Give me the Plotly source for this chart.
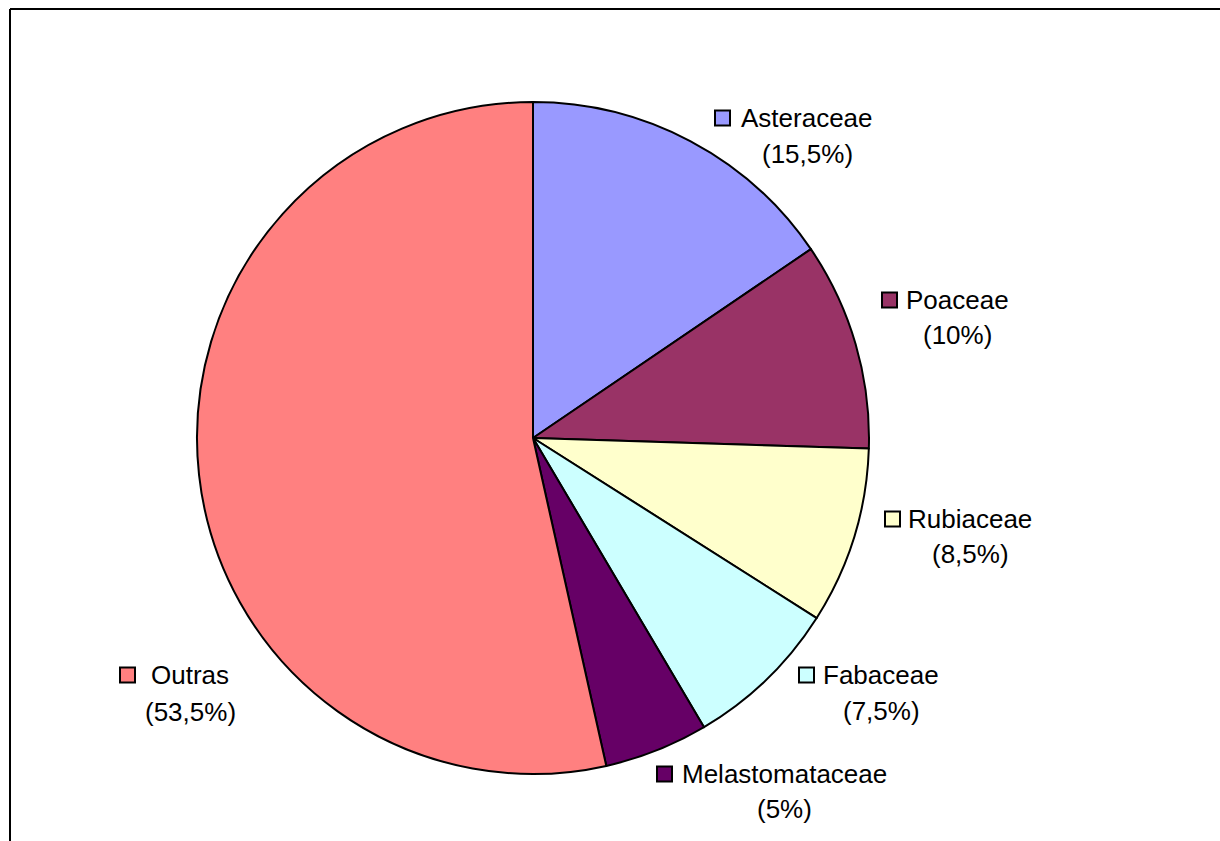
import plotly.graph_objects as go

# ---- data ----
families = ["Asteraceae", "Poaceae", "Rubiaceae", "Fabaceae", "Melastomataceae", "Outras"]
percents = [15.5, 10, 8.5, 7.5, 5, 53.5]
pct_labels = ["(15,5%)", "(10%)", "(8,5%)", "(7,5%)", "(5%)", "(53,5%)"]

# ---- styles / layout ----
colors = ["#9999FF", "#993366", "#FFFFCC", "#CCFFFF", "#660066", "#FF8080"]
W, H = 1220, 841
# label placement in pixels: (text center x, line1 center y, line2 center y, square left x)
label_pos = [
    (807, 118, 154, 715),
    (957, 300, 335, 882),
    (970, 519, 554, 885),
    (881, 675, 711, 799),
    (784, 774, 809, 657),
    (190, 675, 712, 120),
]
SQ = 15
FONT = "Liberation Sans, Arial, sans-serif"
FS = 26

def px(x):
    return x / W

def py(y):
    return 1 - y / H

cx, cy, r = 533, 438, 336

fig = go.Figure(go.Pie(
    labels=families,
    values=percents,
    sort=False,
    direction="clockwise",
    rotation=0,
    marker=dict(colors=colors, line=dict(color="black", width=2)),
    textinfo="none",
    hoverinfo="label+percent",
    showlegend=False,
    domain=dict(x=[px(cx - r), px(cx + r)], y=[py(cy + r), py(cy - r)]),
))

annotations = []
shapes = []
for name, pl, (tx, y1, y2, sx) in zip(families, pct_labels, label_pos):
    annotations.append(dict(x=px(tx), y=py(y1), xref="paper", yref="paper", text=name,
                            showarrow=False, xanchor="center", yanchor="middle",
                            font=dict(family=FONT, size=FS, color="black")))
    annotations.append(dict(x=px(tx), y=py(y2), xref="paper", yref="paper", text=pl,
                            showarrow=False, xanchor="center", yanchor="middle",
                            font=dict(family=FONT, size=FS, color="black")))
for c, (tx, y1, y2, sx) in zip(colors, label_pos):
    shapes.append(dict(type="rect", xref="paper", yref="paper",
                       x0=px(sx), x1=px(sx + SQ), y0=py(y1 - SQ / 2), y1=py(y1 + SQ / 2),
                       fillcolor=c, line=dict(color="black", width=2)))

# outer frame (left and top edges visible)
shapes.append(dict(type="line", xref="paper", yref="paper", x0=px(10), x1=px(10),
                   y0=py(9), y1=py(H + 5), line=dict(color="black", width=2)))
shapes.append(dict(type="line", xref="paper", yref="paper", x0=px(10), x1=px(W + 5),
                   y0=py(9), y1=py(9), line=dict(color="black", width=2)))

fig.update_layout(
    width=W, height=H,
    margin=dict(l=0, r=0, t=0, b=0),
    paper_bgcolor="white", plot_bgcolor="white",
    annotations=annotations, shapes=shapes,
)

fig.write_html("out.html")
